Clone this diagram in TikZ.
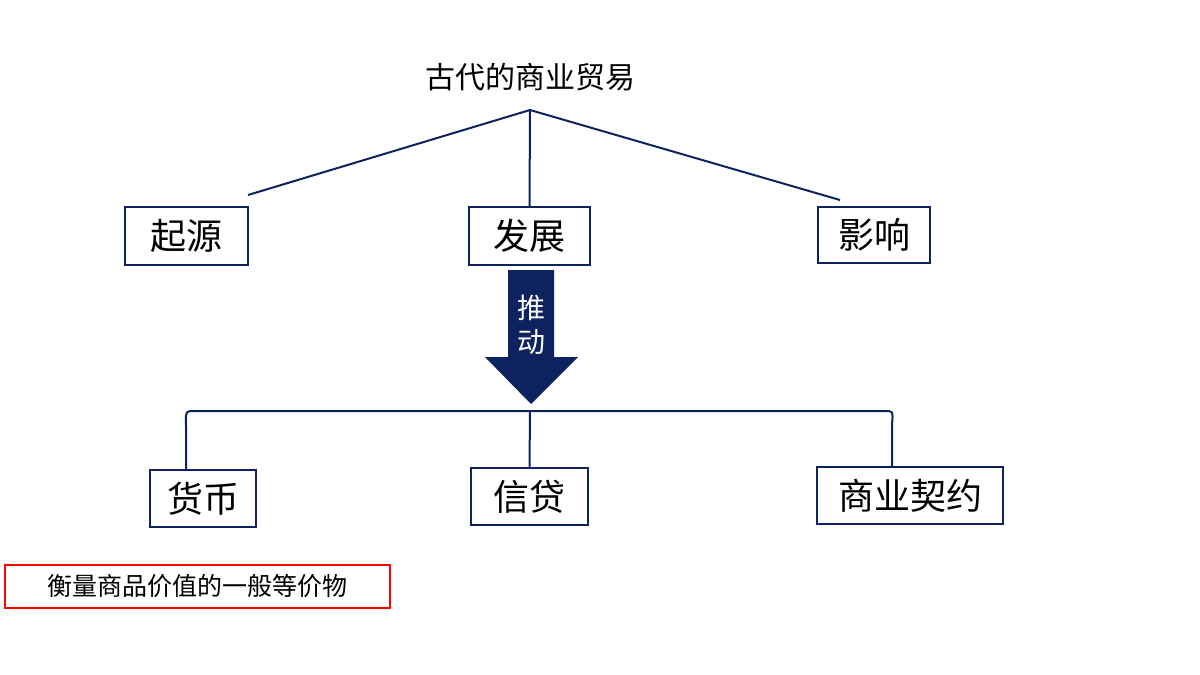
\documentclass[tikz,border=0pt]{standalone}
\usepackage{fontspec}
\setmainfont{Noto Sans CJK SC}
\definecolor{navy}{HTML}{0F2260}
\begin{document}
\begin{tikzpicture}[x=1pt,y=-1pt,
  box/.style={draw=navy,line width=2pt,inner sep=0pt},
  ln/.style={draw=navy,line width=2pt}]
\useasboundingbox (0,0) rectangle (1200,675);
\node[font=\fontsize{30}{32}\selectfont] (title) at (530,77) {古代的商业贸易};
\coordinate (top) at (530,110);
\node[box,minimum width=123,minimum height=58,font=\fontsize{36}{38}\selectfont] (qy) at (186.5,236) {起源};
\node[box,minimum width=121,minimum height=58,font=\fontsize{36}{38}\selectfont] (fz) at (529.5,236) {发展};
\node[box,minimum width=112,minimum height=56,font=\fontsize{36}{38}\selectfont] (yx) at (874,235) {影响};
\coordinate (l1) at (248,195);
\coordinate (r1) at (840,200);
\draw[ln] (l1) -- (top) -- (r1);
\draw[ln] (top) -- (fz.north);
\fill[navy] (508,270) -- (554,270) -- (554,357) -- (578,357) -- (531,404) -- (485,357) -- (508,357) -- cycle;
\node[text=white,font=\fontsize{28}{30}\selectfont,align=center] (td) at (531,325) {推\\[4pt]动};
\node[box,minimum width=106,minimum height=57,font=\fontsize{36}{38}\selectfont] (hb) at (203,498.5) {货币};
\node[box,minimum width=117,minimum height=57,font=\fontsize{36}{38}\selectfont] (xd) at (529.5,496.5) {信贷};
\node[box,minimum width=186,minimum height=57,font=\fontsize{36}{38}\selectfont] (sy) at (910,495.5) {商业契约};
\coordinate (bl) at (190,411);
\coordinate (br) at (889,411);
\coordinate (bm) at (530,411);
\draw[ln] (hb.north -| 186,0) -- (186,425) to[out=-90+180,in=180] (bl) -- (br) to[out=0,in=90] (892,425) -- (sy.north -| 892,0);
\draw[ln] (bm) -- (xd.north);
\node[draw=red,line width=2pt,minimum width=385,minimum height=43,inner sep=0pt,font=\fontsize{25}{27}\selectfont] (dj) at (197.5,586.5) {衡量商品价值的一般等价物};
\end{tikzpicture}
\end{document}
